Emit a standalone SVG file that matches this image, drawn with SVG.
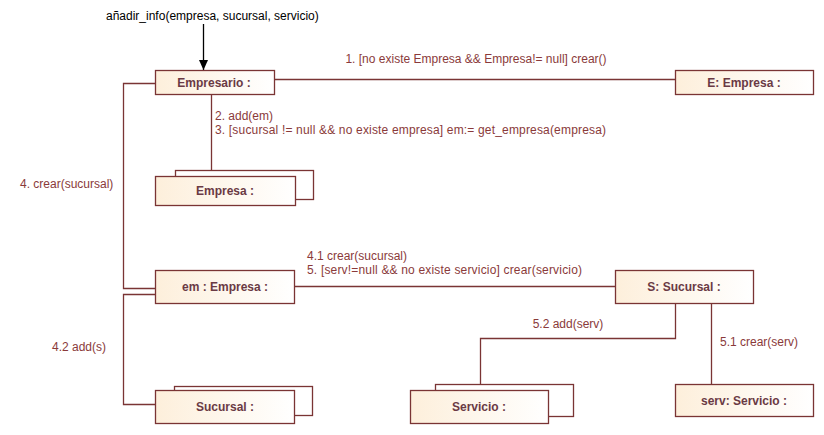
<svg xmlns="http://www.w3.org/2000/svg" width="824" height="435" viewBox="0 0 824 435">
<defs>
<linearGradient id="g" x1="0" y1="0" x2="1" y2="0">
<stop offset="0" stop-color="#fdefdb"/>
<stop offset="1" stop-color="#ffffff"/>
</linearGradient>
<marker id="arr" markerWidth="10" markerHeight="10" refX="10" refY="5" orient="auto" markerUnits="userSpaceOnUse" viewBox="0 0 10 10">
<path d="M0,0.5 L10,5 L0,9.5 Z" fill="#000"/>
</marker>
</defs>
<style>
.box{fill:url(#g);stroke:#7a3434;stroke-width:1.3}
.back{fill:#ffffff;stroke:#7a3434;stroke-width:1.3}
.ln{fill:none;stroke:#7a3434;stroke-width:1.3}
.nm{font-family:"Liberation Sans",Arial,sans-serif;font-size:12px;font-weight:bold;fill:#6a3a44;text-anchor:middle}
.lb{font-family:"Liberation Sans",Arial,sans-serif;font-size:12px;fill:#8a3a3a}
</style>
<rect width="824" height="435" fill="#fff"/>
<g id="connectors">
<line x1="203.5" y1="24" x2="203.5" y2="70" stroke="#000" stroke-width="1.3" marker-end="url(#arr)"/>
<text x="106" y="20" font-family="Liberation Sans,Arial,sans-serif" font-size="12" fill="#000">añadir_info(empresa, sucursal, servicio)</text>
<line class="ln" x1="274.5" y1="79.5" x2="675.5" y2="79.5"/>
<text class="lb" x="476" y="63" text-anchor="middle">1. [no existe Empresa &amp;&amp; Empresa!= null] crear()</text>
<line class="ln" x1="211.5" y1="94.5" x2="211.5" y2="176.5"/>
<text class="lb" x="215" y="120">2. add(em)</text>
<text class="lb" x="215" y="134" textLength="391" lengthAdjust="spacing">3. [sucursal != null &amp;&amp; no existe empresa] em:= get_empresa(empresa)</text>
<polyline class="ln" points="155.5,83.5 123.5,83.5 123.5,288.5 155.5,288.5"/>
<text class="lb" x="20" y="188">4. crear(sucursal)</text>
<polyline class="ln" points="155.5,294.5 123.5,294.5 123.5,404.5 155.5,404.5"/>
<text class="lb" x="52" y="351">4.2 add(s)</text>
<line class="ln" x1="294.5" y1="286.5" x2="615.5" y2="286.5"/>
<text class="lb" x="307" y="260">4.1 crear(sucursal)</text>
<text class="lb" x="307" y="274" textLength="275" lengthAdjust="spacing">5. [serv!=null &amp;&amp; no existe servicio] crear(servicio)</text>
<polyline class="ln" points="675.5,303.5 675.5,338.5 480.5,338.5 480.5,384.5"/>
<text class="lb" x="568" y="328" text-anchor="middle">5.2 add(serv)</text>
<line class="ln" x1="711.5" y1="303.5" x2="711.5" y2="384.5"/>
<text class="lb" x="720" y="346">5.1 crear(serv)</text>
</g>
<g id="empresario">
<rect class="box" x="155.5" y="70.5" width="119" height="24"/>
<text class="nm" x="214" y="87">Empresario :</text>
</g>
<g id="e-empresa">
<rect class="box" x="675.5" y="70.5" width="138" height="24"/>
<text class="nm" x="744" y="87">E: Empresa :</text>
</g>
<g id="empresa-multi">
<rect class="back" x="175.5" y="170.5" width="138" height="29"/>
<rect class="box" x="155.5" y="176.5" width="140" height="29"/>
<text class="nm" x="225" y="195">Empresa :</text>
</g>
<g id="em-empresa">
<rect class="box" x="155.5" y="270.5" width="139" height="33"/>
<text class="nm" x="225" y="291">em : Empresa :</text>
</g>
<g id="sucursal-multi">
<rect class="back" x="174.5" y="386.5" width="138" height="29"/>
<rect class="box" x="155.5" y="390.5" width="139" height="33"/>
<text class="nm" x="225" y="411">Sucursal :</text>
</g>
<g id="s-sucursal">
<rect class="box" x="615.5" y="270.5" width="138" height="33"/>
<text class="nm" x="684" y="291">S: Sucursal :</text>
</g>
<g id="servicio-multi">
<rect class="back" x="435.5" y="384.5" width="138" height="32"/>
<rect class="box" x="410.5" y="390.5" width="138" height="33"/>
<text class="nm" x="479" y="411">Servicio :</text>
</g>
<g id="serv-servicio">
<rect class="box" x="675.5" y="384.5" width="138" height="32"/>
<text class="nm" x="744" y="405">serv: Servicio :</text>
</g>
</svg>
